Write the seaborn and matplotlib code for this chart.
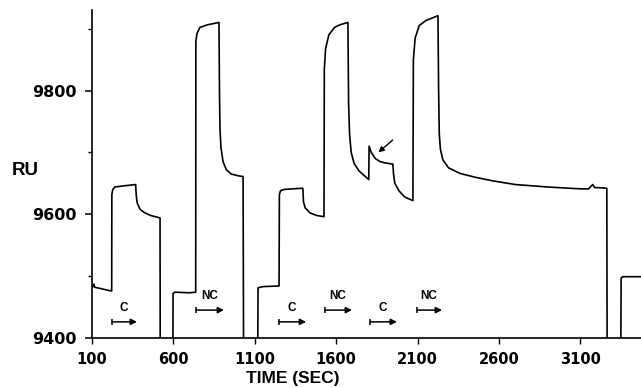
import numpy as np
import pandas as pd
import seaborn as sns
import matplotlib.pyplot as plt
from matplotlib.ticker import MultipleLocator

# sensorgram trace (time in s, response in RU)
time = [100, 108, 112, 116, 150, 200, 221,
        222, 228, 240, 300, 368,
        372, 378, 395, 420, 460, 518,
        519, 597,
        598, 610, 700, 737,
        738, 745, 763, 806, 880,
        883, 886, 892, 905, 925, 955, 1000, 1028,
        1031, 1118,
        1120, 1150, 1249,
        1251, 1258, 1280, 1330, 1395,
        1399, 1410, 1440, 1480, 1525,
        1527, 1535, 1555, 1590, 1620, 1672,
        1676, 1682, 1692, 1710, 1740, 1770, 1800,
        1802, 1815, 1840, 1870, 1900, 1948,
        1952, 1960, 1985, 2020, 2071,
        2074, 2085, 2110, 2150, 2225,
        2229, 2233, 2240, 2255, 2290, 2360, 2450, 2560, 2700, 2900, 3100,
        3150, 3175, 3188, 3210, 3262,
        3264, 3348,
        3350, 3360, 3472]
ru = [9482, 9484, 9487, 9482, 9480, 9477, 9476,
      9632, 9640, 9644, 9646, 9648,
      9630, 9618, 9608, 9603, 9598, 9594,
      9380, 9380,
      9472, 9474, 9473, 9474,
      9880, 9892, 9902, 9906, 9910,
      9800, 9740, 9708, 9685, 9672, 9665, 9662, 9661,
      9380, 9380,
      9481, 9483, 9484,
      9632, 9638, 9640, 9641, 9642,
      9620, 9610, 9602, 9598, 9596,
      9835, 9868, 9890, 9902, 9906, 9910,
      9780, 9730, 9700, 9682, 9670, 9663, 9656,
      9710, 9700, 9690, 9685, 9683, 9681,
      9665, 9650, 9638, 9628, 9622,
      9850, 9885, 9905, 9913, 9921,
      9800, 9730, 9705, 9688, 9675, 9666, 9660, 9654, 9648, 9644, 9641,
      9641, 9648, 9643, 9643, 9642,
      9380, 9380,
      9497, 9499, 9499]

# injection markers
inj_labels = ['C', 'NC', 'C', 'NC', 'C', 'NC']
inj_start = [223, 739, 1249, 1531, 1808, 2096]
inj_end = [376, 911, 1415, 1697, 1973, 2250]
inj_ru = [9426, 9445, 9426, 9445, 9426, 9445]

df = pd.DataFrame({'time': time, 'ru': ru})

sns.set_style('ticks')
plt.rcParams['font.family'] = ['DejaVu Sans']
plt.rcParams['text.color'] = 'black'
plt.rcParams['axes.labelcolor'] = 'black'
plt.rcParams['xtick.color'] = 'black'
plt.rcParams['ytick.color'] = 'black'
plt.rcParams['axes.edgecolor'] = 'black'

fig = plt.figure(figsize=(6.41, 3.88), dpi=100)
ax = fig.add_axes([0.1435, 0.129, 0.8565, 0.845])

sns.lineplot(data=df, x='time', y='ru', estimator=None, sort=False,
             color='black', lw=1.2, ax=ax)

for lab, s, e, y in zip(inj_labels, inj_start, inj_end, inj_ru):
    ax.annotate('', xy=(e, y), xytext=(s, y),
                arrowprops=dict(arrowstyle='-|>', color='black', lw=1.1,
                                mutation_scale=9, shrinkA=0, shrinkB=0))
    ax.plot([s], [y], marker='|', ms=5, mew=1.1, color='black')
    ax.text((s + e) / 2 - 5, y + 13, lab, ha='center', va='bottom',
            fontsize=8.5, fontweight='bold', family='Liberation Sans')

# arrow pointing at the spike
ax.annotate('', xy=(1859, 9700), xytext=(1947, 9720),
            arrowprops=dict(arrowstyle='-|>', color='black', lw=1.0,
                            mutation_scale=8, shrinkA=0, shrinkB=0))

ax.set_xlim(100, 3472)
ax.set_ylim(9400, 9930)
ax.set_xticks([100, 600, 1100, 1600, 2100, 2600, 3100])
ax.set_yticks([9400, 9600, 9800])
ax.yaxis.set_minor_locator(MultipleLocator(100))

sns.despine(ax=ax)
ax.spines['left'].set_linewidth(1.2)
ax.spines['bottom'].set_linewidth(1.2)
ax.tick_params(axis='y', which='major', length=5, width=1.1, pad=6, labelsize=11.5)
ax.tick_params(axis='y', which='minor', length=3, width=1.0)
ax.tick_params(axis='x', length=4, width=1.0, pad=6, labelsize=10.5)
for lbl in ax.get_xticklabels() + ax.get_yticklabels():
    lbl.set_fontweight('bold')

ax.set_xlabel('TIME (SEC)', fontsize=12.5, fontweight='bold', family='Liberation Sans')
ax.xaxis.set_label_coords(0.366, -0.1)
ax.set_ylabel('RU', rotation=0, fontsize=13.5, fontweight='bold',
              family='Liberation Sans', ha='center', va='center')
ax.yaxis.set_label_coords(-0.122, 0.512)

fig.savefig('out.png', dpi=100)
